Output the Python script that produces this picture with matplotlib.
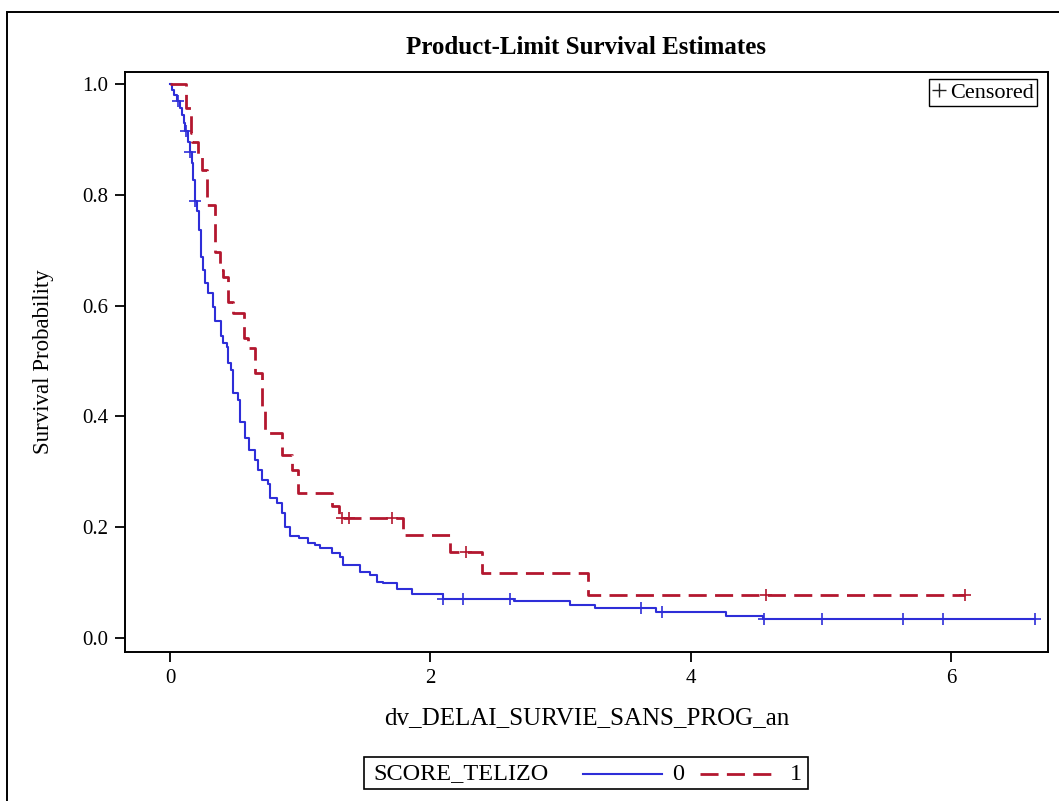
import numpy as np
import matplotlib
matplotlib.use("Agg")
import matplotlib.pyplot as plt
from matplotlib.lines import Line2D
from matplotlib.patches import Rectangle

plt.rcParams['font.family'] = ['Liberation Serif', 'DejaVu Serif']
plt.rcParams['lines.scale_dashes'] = False

# SCORE_TELIZO = 0 : times of drop and survival after the drop
t0 = [0.0, 0.013, 0.03, 0.055, 0.077, 0.09, 0.11, 0.118, 0.14, 0.15, 0.165, 0.175,
      0.188, 0.21, 0.22, 0.24, 0.25, 0.268, 0.293, 0.327, 0.345, 0.395, 0.41, 0.435,
      0.445, 0.47, 0.48, 0.52, 0.54, 0.575, 0.61, 0.65, 0.675, 0.71, 0.75, 0.77,
      0.82, 0.86, 0.885, 0.92, 0.99, 1.06, 1.11, 1.15, 1.245, 1.305, 1.33, 1.46,
      1.536, 1.59, 1.635, 1.745, 1.86, 2.10, 2.64, 3.07, 3.265, 3.73, 4.27, 4.555]
s0 = [1.0, 0.99, 0.98, 0.97, 0.957, 0.944, 0.93, 0.916, 0.896, 0.878, 0.857, 0.827,
      0.789, 0.77, 0.736, 0.688, 0.664, 0.641, 0.623, 0.598, 0.573, 0.545, 0.532, 0.526,
      0.496, 0.484, 0.442, 0.43, 0.39, 0.361, 0.339, 0.321, 0.303, 0.285, 0.278, 0.253,
      0.244, 0.226, 0.20, 0.184, 0.18, 0.171, 0.168, 0.162, 0.153, 0.146, 0.132, 0.119,
      0.114, 0.101, 0.099, 0.088, 0.079, 0.071, 0.066, 0.0596, 0.0547, 0.0475, 0.040, 0.034]
c0 = [0.064, 0.12, 0.154, 0.192, 2.10, 2.25, 2.61, 3.62, 3.78, 4.56, 5.01, 5.63, 5.94, 6.645]

# SCORE_TELIZO = 1
t1 = [0.0, 0.123, 0.159, 0.17, 0.215, 0.246, 0.284, 0.346, 0.384, 0.407, 0.446, 0.484,
      0.568, 0.60, 0.653, 0.707, 0.73, 0.86, 0.94, 0.983, 1.245, 1.30, 1.79, 2.15,
      2.40, 3.21]
s1 = [1.0, 0.957, 0.912, 0.895, 0.868, 0.845, 0.782, 0.697, 0.664, 0.652, 0.606, 0.587,
      0.541, 0.523, 0.478, 0.41, 0.37, 0.33, 0.303, 0.262, 0.238, 0.217, 0.186, 0.155,
      0.117, 0.0776]
c1 = [1.32, 1.375, 1.705, 2.27, 4.576, 6.107]

groups = ["0", "1"]
colors = ["#2e2ed8", "#b3172f"]

W, H = 1059, 801
fig = plt.figure(figsize=(W / 100, H / 100), dpi=100)
ax = fig.add_axes([125 / W, 149 / H, 923 / W, 580 / H])


def fx(x):
    return x / W


def fy(y):
    return 1 - y / H


def draw(ax, t, s, c, color, **kw):
    t = np.array(t)
    s = np.array(s)
    c = np.array(c)
    tt = np.append(t, c.max())
    ss = np.append(s, s[-1])
    ax.step(tt, ss, where='post', color=color, **kw)
    cy = s[np.searchsorted(t, c, side='right') - 1]
    ax.plot(c, cy, linestyle='none', marker='+', ms=9, mew=1.2, color=color)


draw(ax, t0, s0, c0, colors[0], lw=1.5)
draw(ax, t1, s1, c1, colors[1], lw=2.0, dashes=(13, 6))

ax.set_xlim(-0.346, 6.745)
ax.set_ylim(-0.0253, 1.0217)
ax.set_xticks([0, 2, 4, 6])
ax.set_yticks([0.0, 0.2, 0.4, 0.6, 0.8, 1.0])
ax.set_yticklabels(["%.1f" % v for v in [0.0, 0.2, 0.4, 0.6, 0.8, 1.0]])
ax.tick_params(axis='both', labelsize=15, length=7, width=1.3, direction='out', pad=5)
for sp in ax.spines.values():
    sp.set_linewidth(1.4)
ax.set_xlabel("dv_DELAI_SURVIE_SANS_PROG_an", fontsize=18, labelpad=14)
ax.set_ylabel("Survival Probability", fontsize=16.5, labelpad=20)
ax.set_title("Product-Limit Survival Estimates", fontsize=18, fontweight='bold', pad=13)

cens = Line2D([], [], linestyle='none', marker='+', ms=10, mew=1.0, color='#222222')
leg = ax.legend([cens], ["Censored"], loc='upper right', bbox_to_anchor=(0.9885, 0.988),
                fontsize=16, handlelength=0.55, handletextpad=0.25, borderpad=0.15,
                borderaxespad=0.0, fancybox=False, framealpha=1, edgecolor='black')
leg.get_frame().set_linewidth(1.0)

# outer border
fig.patches.append(Rectangle((fx(7), -0.02), 1.05, fy(12) + 0.02, transform=fig.transFigure,
                             fill=False, edgecolor='black', lw=1.4))

# bottom group legend
fig.patches.append(Rectangle((fx(364), fy(789)), fx(808 - 364), (789 - 757) / H,
                             transform=fig.transFigure, fill=False, edgecolor='black', lw=1.2))
yl = fy(774)
fig.text(fx(373), yl, "SCORE_TELIZO", fontsize=17.5, va='center', ha='left')
fig.add_artist(Line2D([fx(583), fx(662)], [yl, yl], color=colors[0], lw=1.5,
                      transform=fig.transFigure))
fig.text(fx(678), yl, groups[0], fontsize=17.5, va='center', ha='center')
fig.add_artist(Line2D([fx(700), fx(772)], [yl, yl], color=colors[1], lw=2.0,
                      dashes=(13, 6), transform=fig.transFigure))
fig.text(fx(796), yl, groups[1], fontsize=17.5, va='center', ha='center')

fig.savefig("out.png", dpi=100)
